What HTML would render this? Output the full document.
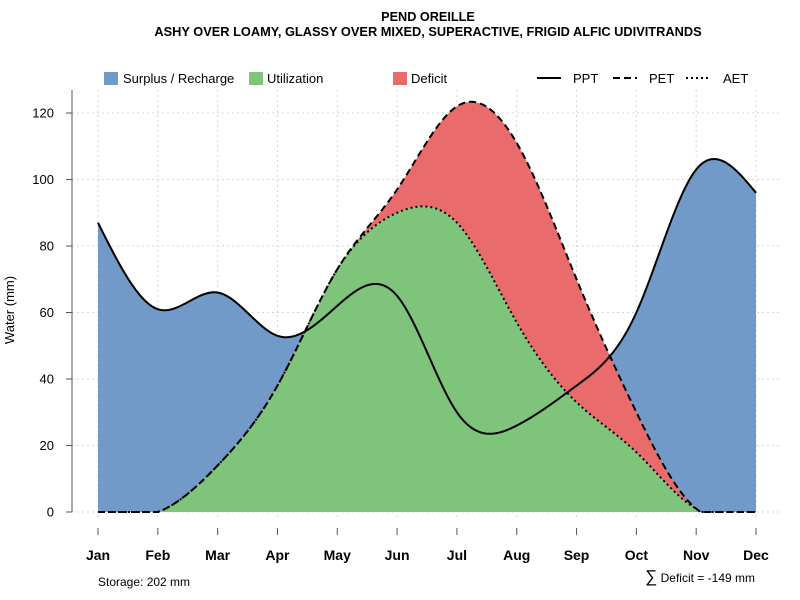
<!DOCTYPE html>
<html><head><meta charset="utf-8"><style>
body{margin:0;background:#fff;font-family:"Liberation Sans",sans-serif}
svg{display:block}
</style></head><body>
<svg id="chart" width="800" height="600" xmlns="http://www.w3.org/2000/svg" font-family="Liberation Sans, sans-serif">
<text x="428" y="21" text-anchor="middle" font-size="12.7" font-weight="bold">PEND OREILLE</text>
<text x="428" y="36" text-anchor="middle" font-size="12.8" font-weight="bold">ASHY OVER LOAMY, GLASSY OVER MIXED, SUPERACTIVE, FRIGID ALFIC UDIVITRANDS</text>
<g id="grid"></g>
<g id="areas"></g>
<g id="lines"></g>
<g id="axes"></g>
<g font-size="13">
<rect x="104" y="72" width="14" height="13" fill="#729ac8"/>
<text x="123" y="83">Surplus / Recharge</text>
<rect x="249" y="72" width="14" height="13" fill="#7ec47b"/>
<text x="267" y="83">Utilization</text>
<rect x="393" y="72" width="14" height="13" fill="#ea6b6c"/>
<text x="411" y="83">Deficit</text>
<line x1="537" y1="78" x2="561" y2="78" stroke="#000" stroke-width="2"/>
<text x="573" y="83">PPT</text>
<line x1="613" y1="78" x2="637" y2="78" stroke="#000" stroke-width="2" stroke-dasharray="7,4"/>
<text x="649" y="83">PET</text>
<line x1="686" y1="78" x2="710" y2="78" stroke="#000" stroke-width="2" stroke-dasharray="2,3"/>
<text x="723" y="83">AET</text>
</g>
<text x="98" y="586" font-size="12">Storage: 202 mm</text>
<text x="755" y="582" font-size="12" text-anchor="end"><tspan font-size="17">∑</tspan> Deficit = -149 mm</text>
<text transform="translate(14,310) rotate(-90)" text-anchor="middle" font-size="13">Water (mm)</text>
</svg>
<script>
const months=["Jan","Feb","Mar","Apr","May","Jun","Jul","Aug","Sep","Oct","Nov","Dec"];
const ppt=[87,61,66,53,62,65,30,26,38,60,103,96];
const pet=[0,0,14,38,73,97,122,111,70,30,1,0];
const aet=[0,0,14,38,73,90,87,57,33,18,1,0];
const yTicks=[0,20,40,60,80,100,120];
const NS="http://www.w3.org/2000/svg";
const X=i=>98+i*(756-98)/11;
const Y=v=>512-v*(399/120);
function mk(p,t,a){const e=document.createElementNS(NS,t);for(const k in a)e.setAttribute(k,a[k]);p.appendChild(e);return e;}
function naturalM(y){const n=y.length;const a=new Array(n).fill(0),b=new Array(n).fill(0),c=new Array(n).fill(0),d=new Array(n).fill(0);
 b[0]=1;b[n-1]=1;for(let i=1;i<n-1;i++){a[i]=1;b[i]=4;c[i]=1;d[i]=6*(y[i+1]-2*y[i]+y[i-1]);}
 for(let i=1;i<n;i++){const w=a[i]/b[i-1];b[i]-=w*c[i-1];d[i]-=w*d[i-1];}
 const M=new Array(n).fill(0);M[n-1]=d[n-1]/b[n-1];for(let i=n-2;i>=0;i--)M[i]=(d[i]-c[i]*M[i+1])/b[i];return M;}
function spline(arr,M,t){const n=arr.length;const i=Math.min(Math.floor(t),n-2);const u=t-i,v=1-u;
 const val=M[i]*v*v*v/6+M[i+1]*u*u*u/6+(arr[i]-M[i]/6)*v+(arr[i+1]-M[i+1]/6)*u;return Math.max(0,val);}
const Mp=naturalM(ppt),Me=naturalM(pet),Ma=naturalM(aet);
const N=440,S=[];for(let k=0;k<=N;k++){const t=11*k/N;S.push({t,p:spline(ppt,Mp,t),e:spline(pet,Me,t),a:spline(aet,Ma,t)});}
S.forEach(s=>{if(s.a>s.e)s.a=s.e;});
const grid=document.getElementById('grid'),areas=document.getElementById('areas'),lines=document.getElementById('lines'),axes=document.getElementById('axes');
months.forEach((m,i)=>{const l=mk(grid,'line',{x1:X(i),x2:X(i),y1:90,y2:520,stroke:'#d6d6d6','stroke-dasharray':'2,3'});

});
yTicks.forEach(v=>{const l=mk(grid,'line',{x1:72,x2:780,y1:Y(v),y2:Y(v),stroke:'#d6d6d6','stroke-dasharray':'2,3'});

});
function band(up,lo,fill,name){let d='';S.forEach((s,k)=>{d+=(k?'L':'M')+X(s.t).toFixed(2)+','+Y(up(s)).toFixed(2);});
 for(let k=S.length-1;k>=0;k--){d+='L'+X(S[k].t).toFixed(2)+','+Y(lo(S[k])).toFixed(2);}
 const p=mk(areas,'path',{d:d+'Z',fill});
 
 }
band(s=>s.a,s=>0,'#7ec47b','utilization-area');
band(s=>Math.max(s.p,s.a),s=>s.a,'#729ac8','surplus-area');
band(s=>Math.max(s.e,s.a),s=>s.a,'#ea6b6c','deficit-area');
function line(f,dash,name){let d='';S.forEach((s,k)=>{d+=(k?'L':'M')+X(s.t).toFixed(2)+','+Y(f(s)).toFixed(2);});
 const p=mk(lines,'path',{d,fill:'none',stroke:'#000','stroke-width':2,'stroke-dasharray':dash});
 
 }
line(s=>s.a,'2,3','aet-line');line(s=>s.e,'7,4','pet-line');line(s=>s.p,'none','ppt-line');
const ya=mk(axes,'line',{x1:72,x2:72,y1:90,y2:512,stroke:'#555'});


yTicks.forEach(v=>{mk(axes,'line',{x1:66,x2:72,y1:Y(v),y2:Y(v),stroke:'#555'});
 const t=mk(axes,'text',{x:54,y:Y(v)+4.5,'text-anchor':'end','font-size':13});t.textContent=v;
 
 });
months.forEach((m,i)=>{mk(axes,'line',{x1:X(i),x2:X(i),y1:528,y2:535,stroke:'#555'});
 const t=mk(axes,'text',{x:X(i),y:560,'text-anchor':'middle','font-size':14,'font-weight':'bold'});t.textContent=m;
 
 });
</script>
</body></html>
